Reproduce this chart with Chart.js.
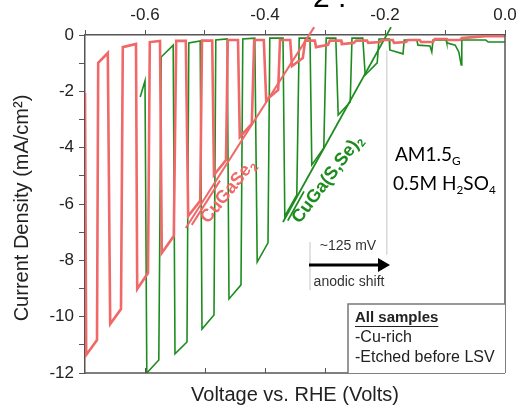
<!DOCTYPE html>
<html><head><meta charset="utf-8">
<script src="https://cdn.jsdelivr.net/npm/chart.js@4/dist/chart.umd.min.js"></script>
<style>html,body{margin:0;padding:0;background:#fff;}canvas{display:block;}</style>
</head><body>
<canvas id="c" width="529" height="411"></canvas>
<script>
// ---- data (Voltage vs RHE in V, current density in mA/cm2) ----
const redVoltage = [-0.700,-0.698,-0.680,-0.678,-0.662,-0.658,-0.640,-0.637,-0.615,-0.613,-0.595,-0.592,-0.575,-0.572,-0.552,-0.548,-0.532,-0.528,-0.508,-0.505,-0.488,-0.485,-0.465,-0.462,-0.445,-0.442,-0.422,-0.418,-0.402,-0.398,-0.378,-0.375,-0.358,-0.355,-0.337,-0.333,-0.317,-0.315,-0.295,-0.292,-0.273,-0.272,-0.252,-0.248,-0.230,-0.228,-0.208,-0.205,-0.187,-0.185,-0.165,-0.162,-0.142,-0.140,-0.120,-0.117,-0.097,-0.095,-0.075,-0.072,-0.033,0.000];
const redCurrent = [-2.06,-11.36,-10.83,-0.99,-0.64,-10.26,-9.73,-0.43,-0.32,-9.02,-8.45,-0.25,-0.21,-7.74,-7.14,-0.21,-0.21,-6.43,-5.89,-0.20,-0.20,-4.97,-4.44,-0.18,-0.18,-3.62,-3.16,-0.18,-0.18,-2.31,-1.95,-0.18,-0.18,-1.10,-0.82,-0.20,-0.20,-0.43,-0.35,-0.20,-0.20,-0.32,-0.28,-0.20,-0.20,-0.28,-0.25,-0.18,-0.18,-0.28,-0.25,-0.18,-0.18,-0.25,-0.25,-0.14,-0.14,-0.18,-0.18,-0.11,-0.04,-0.04];
const greenVoltage = [-0.608,-0.600,-0.597,-0.577,-0.573,-0.553,-0.550,-0.530,-0.527,-0.508,-0.505,-0.485,-0.482,-0.463,-0.460,-0.440,-0.437,-0.417,-0.413,-0.395,-0.392,-0.370,-0.367,-0.347,-0.343,-0.325,-0.322,-0.302,-0.298,-0.282,-0.278,-0.258,-0.255,-0.237,-0.233,-0.213,-0.210,-0.193,-0.192,-0.170,-0.168,-0.147,-0.145,-0.125,-0.122,-0.120,-0.098,-0.097,-0.083,-0.077,-0.073,-0.072,-0.032,-0.028,0.000];
const greenCurrent = [-2.20,-1.63,-12.00,-11.54,-0.78,-0.36,-11.32,-10.90,-0.28,-0.21,-10.44,-9.94,-0.18,-0.14,-9.37,-8.87,-0.14,-0.11,-8.06,-7.38,-0.11,-0.11,-6.43,-5.68,-0.11,-0.11,-4.61,-4.01,-0.11,-0.11,-2.84,-2.38,-0.11,-0.11,-1.42,-0.99,-0.14,-0.14,-0.53,-0.67,-0.18,-0.18,-0.36,-0.39,-0.60,-0.18,-0.18,-0.28,-0.36,-0.60,-1.06,-0.18,-0.18,-0.25,-0.25];
// onset tangent lines
const redFitVoltage = [-0.532,-0.318];
const redFitCurrent = [-6.85,0.28];
const redFit2Voltage = [-0.522,-0.475];
const redFit2Current = [-6.74,-5.17];
const greenFitVoltage = [-0.370,-0.190];
const greenFitCurrent = [-6.64,0.28];
const greenFit2Voltage = [-0.362,-0.335];
const greenFit2Current = [-6.59,-5.55];
const onsetVoltage = [-0.325,-0.197];
// axes
const xTickValues = [-0.7,-0.6,-0.5,-0.4,-0.3,-0.2,-0.1,0.0];
const xLabelValues = [-0.6,-0.4,-0.2,0.0];
const xTickLabels = ['-0.6','-0.4','-0.2','0.0'];
const yTickValues = [-12,-11,-10,-9,-8,-7,-6,-5,-4,-3,-2,-1,0];
const yLabelValues = [-12,-10,-8,-6,-4,-2,0];
const yTickLabels = ['-12','-10','-8','-6','-4','-2','0'];
const seriesNames = ['CuGaSe2','CuGa(S,Se)2'];

const RED = 'rgb(240,104,104)';
const GREEN = 'rgb(28,140,30)';
const FONT = "'Liberation Sans', Arial, sans-serif";

function pts(xs, ys){ return xs.map((v,i)=>({x:v,y:ys[i]})); }
function lbl(values, labels, v){
  for (let i=0;i<values.length;i++) if (Math.abs(values[i]-v)<1e-9) return labels[i];
  return '';
}

function rich(ctx, parts, x, y, size, family, weight, color){
  let cx = x;
  ctx.fillStyle = color;
  ctx.textBaseline = 'alphabetic';
  ctx.textAlign = 'left';
  for (const p of parts){
    const s = p.sub ? size*0.62 : size;
    ctx.font = weight + ' ' + s + 'px ' + family;
    const dy = p.sub ? size*0.22 : 0;
    ctx.fillText(p.t, cx, y+dy);
    cx += ctx.measureText(p.t).width;
  }
  return cx - x;
}

const deco = {
  id: 'deco',
  beforeDatasetsDraw(chart){
    const {ctx, scales:{x,y}} = chart;
    ctx.save();
    ctx.strokeStyle = '#d9d9d9';
    ctx.lineWidth = 1.5;
    ctx.beginPath();
    let gx = x.getPixelForValue(onsetVoltage[0]);
    ctx.moveTo(gx, y.getPixelForValue(-7.35)); ctx.lineTo(gx, y.getPixelForValue(-9.05));
    gx = x.getPixelForValue(onsetVoltage[1]);
    ctx.moveTo(gx, y.getPixelForValue(-0.55)); ctx.lineTo(gx, y.getPixelForValue(-7.8));
    ctx.stroke();
    ctx.restore();
  },
  afterDatasetsDraw(chart){
    const {ctx, chartArea:a, scales:{x,y}} = chart;
    ctx.save();
    // frame: bottom and right
    ctx.strokeStyle = '#555'; ctx.lineWidth = 1.5;
    ctx.beginPath();
    ctx.moveTo(a.left, a.bottom); ctx.lineTo(a.right, a.bottom);
    ctx.moveTo(a.right, a.top); ctx.lineTo(a.right, a.bottom);
    ctx.stroke();
    ctx.lineWidth = 1;
    ctx.beginPath();
    for (const v of xTickValues){
      const px = Math.round(x.getPixelForValue(v))+0.5;
      if (px < a.left+2 || px > a.right-2) continue;
      ctx.moveTo(px, a.bottom); ctx.lineTo(px, a.bottom-5);
    }
    ctx.stroke();

    // rotated series labels
    const drawRot = (v, j, ang, parts, color) => {
      ctx.save();
      ctx.translate(x.getPixelForValue(v), y.getPixelForValue(j));
      ctx.rotate(-ang*Math.PI/180);
      rich(ctx, parts, 0, 0, 18, FONT, 'bold', color);
      ctx.restore();
    };
    drawRot(-0.495, -6.72, 51, [{t:'CuGaSe'},{t:'2',sub:true}], RED);
    drawRot(-0.342, -6.72, 53, [{t:'CuGa(S,Se)'},{t:'2',sub:true}], GREEN);

    // conditions
    rich(ctx, [{t:'AM1.5'},{t:'G',sub:true}], 395, 161, 19, "Lato, 'Liberation Sans', sans-serif", 'normal', '#000');
    rich(ctx, [{t:'0.5M H'},{t:'2',sub:true},{t:'SO'},{t:'4',sub:true}], 393, 190, 19, "Lato, 'Liberation Sans', sans-serif", 'normal', '#000');

    // shift arrow
    ctx.strokeStyle = '#000'; ctx.fillStyle = '#000'; ctx.lineWidth = 3;
    ctx.beginPath(); ctx.moveTo(309, 265); ctx.lineTo(380, 265); ctx.stroke();
    ctx.beginPath(); ctx.moveTo(390, 265); ctx.lineTo(378, 258); ctx.lineTo(378, 272); ctx.closePath(); ctx.fill();
    ctx.fillStyle = '#333'; ctx.font = '14px ' + FONT; ctx.textAlign = 'center'; ctx.textBaseline = 'middle';
    ctx.fillText('~125 mV', 348, 246);
    ctx.fillText('anodic shift', 349, 282);

    // info box
    ctx.fillStyle = '#fff'; ctx.fillRect(348, 304, a.right-348, a.bottom-304);
    ctx.strokeStyle = '#777'; ctx.lineWidth = 1.5;
    ctx.beginPath(); ctx.moveTo(348, a.bottom); ctx.lineTo(348, 304); ctx.lineTo(a.right, 304); ctx.stroke();
    ctx.fillStyle = '#222'; ctx.textAlign = 'left'; ctx.textBaseline = 'middle';
    ctx.font = 'bold 15px ' + FONT;
    ctx.fillText('All samples', 355, 318);
    const w = ctx.measureText('All samples').width;
    ctx.strokeStyle = '#222'; ctx.lineWidth = 1.2;
    ctx.beginPath(); ctx.moveTo(355, 326.5); ctx.lineTo(355+w, 326.5); ctx.stroke();
    ctx.font = '16px ' + FONT;
    ctx.fillText('-Cu-rich', 355, 338);
    ctx.fillText('-Etched before LSV', 355, 358);

    // axis titles
    ctx.fillStyle = '#222'; ctx.textAlign = 'center'; ctx.textBaseline = 'middle';
    ctx.font = '20px ' + FONT;
    ctx.fillText('Voltage vs. RHE (Volts)', (a.left+a.right)/2, 395);
    ctx.save();
    ctx.translate(22, 208); ctx.rotate(-Math.PI/2);
    ctx.fillText('Current Density (mA/cm\u00B2)', 0, 0);
    ctx.restore();

    // clipped upper title remnant
    ctx.fillStyle = '#000'; ctx.font = '30px ' + FONT; ctx.textAlign = 'left'; ctx.textBaseline = 'alphabetic';
    ctx.fillText('2 :', 313, 7);
    ctx.restore();
  }
};

const axisCommon = {
  grid: {drawOnChartArea:false, drawTicks:true, tickLength:5, color:'#555', lineWidth:1},
  border: {display:true, color:'#555', width:1.5},
};

new Chart(document.getElementById('c'), {
  type: 'scatter',
  data: {
    datasets: [
      {label: seriesNames[0], data: pts(redVoltage, redCurrent), showLine:true, borderColor:RED, borderWidth:2.6, pointRadius:0, fill:false},
      {label: seriesNames[0]+' fit', data: pts(redFitVoltage, redFitCurrent), showLine:true, borderColor:RED, borderWidth:2, pointRadius:0, clip:false},
      {label: seriesNames[0]+' fit 2', data: pts(redFit2Voltage, redFit2Current), showLine:true, borderColor:RED, borderWidth:2, pointRadius:0},
      {label: seriesNames[1], data: pts(greenVoltage, greenCurrent), showLine:true, borderColor:GREEN, borderWidth:1.6, pointRadius:0, fill:false},
      {label: seriesNames[1]+' fit', data: pts(greenFitVoltage, greenFitCurrent), showLine:true, borderColor:GREEN, borderWidth:1.8, pointRadius:0, clip:false},
      {label: seriesNames[1]+' fit 2', data: pts(greenFit2Voltage, greenFit2Current), showLine:true, borderColor:GREEN, borderWidth:1.8, pointRadius:0}
    ]
  },
  options: {
    responsive:false, animation:false, devicePixelRatio:1,
    layout: {padding:{left:0, right:24, top:0, bottom:38}},
    plugins: {legend:{display:false}, tooltip:{enabled:false}},
    scales: {
      x: {
        type:'linear', position:'top', min:-0.7, max:0,
        afterBuildTicks: s => { s.ticks = xTickValues.map(v=>({value:v})); },
        afterFit: s => { s.height = 35; },
        ticks: {autoSkip:false, maxRotation:0, padding:4, color:'#222', font:{family:FONT, size:17},
                callback: v => lbl(xLabelValues, xTickLabels, v)},
        ...axisCommon
      },
      y: {
        type:'linear', position:'left', min:-12, max:0,
        afterBuildTicks: s => { s.ticks = yTickValues.map(v=>({value:v})); },
        afterFit: s => { s.width = 85; },
        ticks: {autoSkip:false, padding:5, color:'#222', font:{family:FONT, size:17},
                callback: v => lbl(yLabelValues, yTickLabels, v)},
        grid: {drawOnChartArea:false, drawTicks:true, tickLength:6, color:'#555', lineWidth:1},
        border: {display:true, color:'#555', width:1.5}
      }
    }
  },
  plugins: [deco]
});
</script>
</body></html>
